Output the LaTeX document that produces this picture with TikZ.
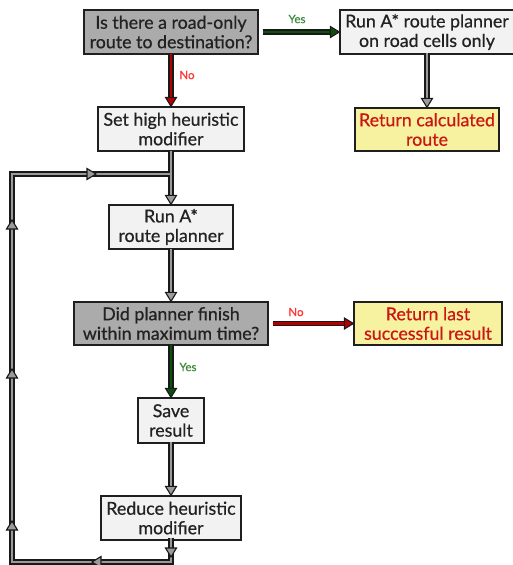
\documentclass[tikz,border=0pt]{standalone}
\usepackage{fontspec}
\setmainfont{Lato}[FakeBold=0.6]
\usetikzlibrary{calc}
\definecolor{dkgray}{HTML}{ABABAB}
\definecolor{ltgray}{HTML}{F2F2F2}
\definecolor{yel}{HTML}{F6F2A0}
\definecolor{rtxt}{HTML}{CC1515}
\definecolor{btxt}{HTML}{222222}
\definecolor{shgray}{HTML}{9A9A9A}
\definecolor{shred}{HTML}{B00000}
\definecolor{shgreen}{HTML}{0E4E0E}
\definecolor{lblred}{HTML}{FF3535}
\definecolor{lblgreen}{HTML}{3C8C3C}
\begin{document}
\begin{tikzpicture}[x=1pt,y=-1pt,
  box/.style={draw=black!88, line width=1.3pt, text=btxt, align=center, inner sep=0pt,
    font=\fontsize{17.8}{19.5}\selectfont},
  souter/.style={line width=5.5pt, draw=black!90, line join=miter},
  sinner/.style={line width=2.6pt, line join=miter},
  headst/.style={draw=black!90, line width=1.1pt, line join=miter},
  lbl/.style={font=\fontsize{11.5}{13}\selectfont, inner sep=0pt}]
\useasboundingbox (0,0) rectangle (513,565);
\clip (0,0) rectangle (513,565);
\fill[white] (0,0) rectangle (513,565);

% nodes
\node[box, fill=dkgray, minimum width=174pt, minimum height=44pt] (q1) at (171,32) {Is there a road-only\\route to destination?};
\node[box, fill=ltgray, minimum width=174pt, minimum height=44pt] (r1) at (427,32) {Run A* route planner\\on road cells only};
\node[box, fill=ltgray, minimum width=146pt, minimum height=44pt] (s3) at (171,129) {Set high heuristic\\modifier};
\node[box, fill=yel, text=rtxt, minimum width=144pt, minimum height=43pt] (ret1) at (427,129.5) {Return calculated\\route};
\node[box, fill=ltgray, minimum width=124pt, minimum height=44pt] (run) at (171,227) {Run A*\\route planner};
\node[box, fill=dkgray, minimum width=194pt, minimum height=43pt] (q2) at (171,323.5) {Did planner finish\\within maximum time?};
\node[box, fill=yel, text=rtxt, minimum width=148pt, minimum height=43pt] (ret2) at (428,323.5) {Return last\\successful result};
\node[box, fill=ltgray, minimum width=66pt, minimum height=45pt] (save) at (171,420.5) {Save\\result};
\node[box, fill=ltgray, minimum width=140pt, minimum height=44pt] (red) at (171,518) {Reduce heuristic\\modifier};

% loop corners
\coordinate (tj) at (171,174);
\coordinate (tl) at (12,174);
\coordinate (bl) at (12,562);
\coordinate (bj) at (171,562);
\coordinate (h1) at (96,174);
\coordinate (h2) at (12,220);
\coordinate (h3) at (12,369);
\coordinate (h4) at (12,521);
\coordinate (h5) at (92,562);
\coordinate (h6) at (171,557);

% gray shafts: outer
\draw[souter, shorten >=8pt] ([yshift=1pt]s3.south) -- (run.north);
\draw[souter, shorten >=8pt] ([yshift=1pt]run.south) -- (q2.north);
\draw[souter, shorten >=8pt] ([yshift=2pt]save.south) -- (red.north);
\draw[souter, shorten >=8pt] ([yshift=2pt]r1.south) -- (ret1.north);
\draw[souter] ([yshift=3pt]red.south) -- (bj) -- (bl) -- (tl) -- (tj);
% gray shafts: inner
\draw[sinner, draw=shgray, shorten >=8pt] ([yshift=1pt]s3.south) -- (run.north);
\draw[sinner, draw=shgray, shorten >=8pt] ([yshift=1pt]run.south) -- (q2.north);
\draw[sinner, draw=shgray, shorten >=8pt] ([yshift=2pt]save.south) -- (red.north);
\draw[sinner, draw=shgray, shorten >=8pt] ([yshift=2pt]r1.south) -- (ret1.north);
\draw[sinner, draw=shgray] ([yshift=3pt]red.south) -- (bj) -- (bl) -- (tl) -- (tj);

% coloured shafts
\draw[souter, shorten >=8pt] ([xshift=4pt]q1.east) -- (r1.west);
\draw[sinner, draw=shgreen, shorten >=8pt] ([xshift=4pt]q1.east) -- (r1.west);
\draw[souter, shorten >=8pt] ([yshift=1pt]q1.south) -- (s3.north);
\draw[sinner, draw=shred, shorten >=8pt] ([yshift=1pt]q1.south) -- (s3.north);
\draw[souter, shorten >=8pt] ([xshift=4pt]q2.east) -- (ret2.west);
\draw[sinner, draw=shred, shorten >=8pt] ([xshift=4pt]q2.east) -- (ret2.west);
\draw[souter, shorten >=8pt] ([yshift=1pt]q2.south) -- (save.north);
\draw[sinner, draw=shgreen, shorten >=8pt] ([yshift=1pt]q2.south) -- (save.north);

% arrow heads
\newcommand\headat[3]{\draw[headst, fill=#3, shift={(#1)}, rotate=#2] (0,0) -- (-9,5.5) -- (-9,-5.5) -- cycle;}
\headat{run.north}{-90}{shgray}
\headat{q2.north}{-90}{shgray}
\headat{red.north}{-90}{shgray}
\headat{ret1.north}{-90}{shgray}
\headat{s3.north}{-90}{shred}
\headat{save.north}{-90}{shgreen}
\headat{r1.west}{0}{shgreen}
\headat{ret2.west}{0}{shred}
\headat{h1}{0}{shgray}
\headat{h2}{90}{shgray}
\headat{h3}{90}{shgray}
\headat{h4}{90}{shgray}
\headat{h5}{180}{shgray}
\headat{h6}{-90}{shgray}

% labels
\node[lbl, text=lblgreen] (ly1) at (297,19) {Yes};
\node[lbl, text=lblred] (ln1) at (187,75) {No};
\node[lbl, text=lblred] (ln2) at (296,312) {No};
\node[lbl, text=lblgreen] (ly2) at (188,367) {Yes};
\end{tikzpicture}
\end{document}
